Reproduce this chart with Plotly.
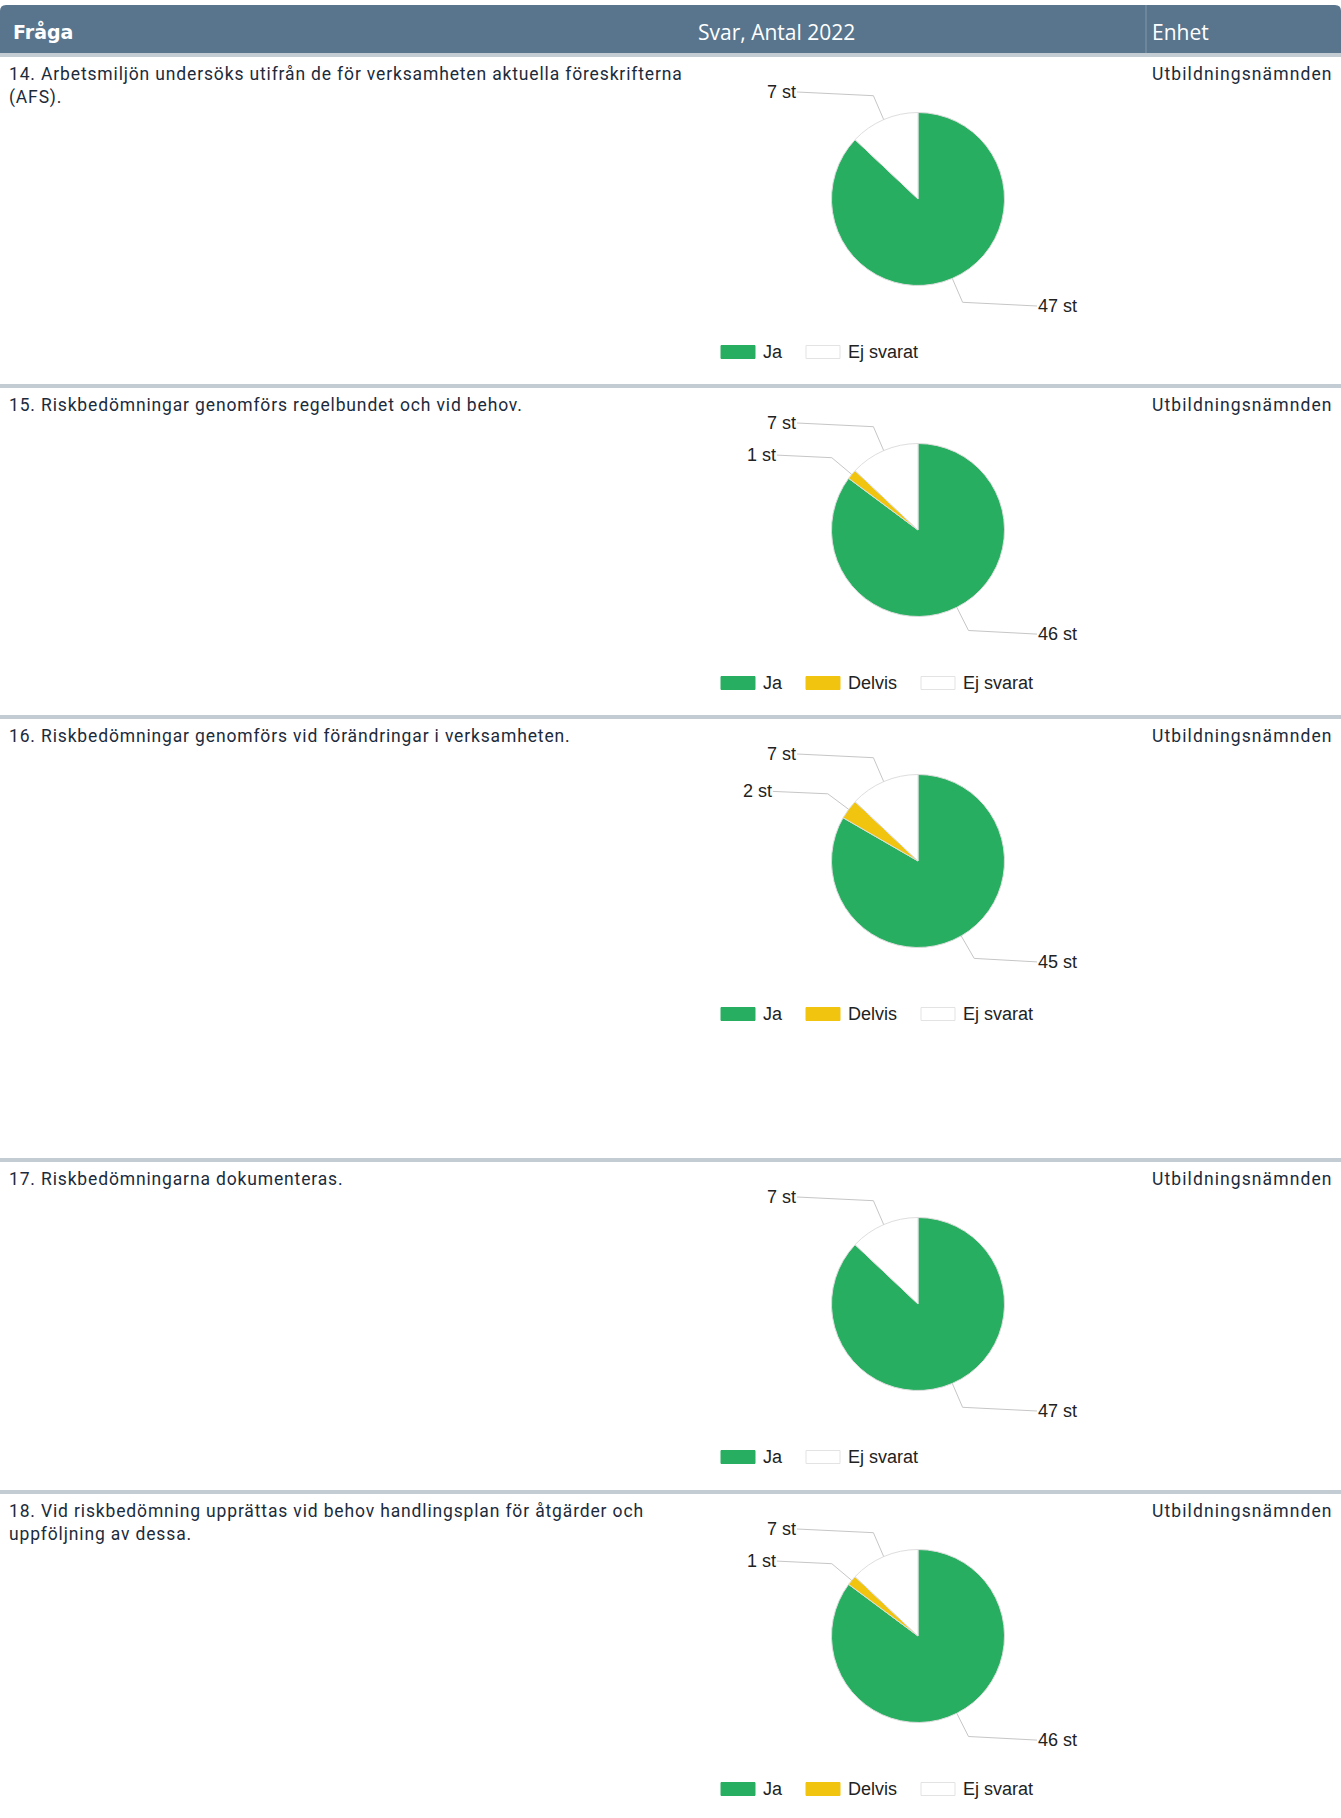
import math
import plotly.graph_objects as go

# ---------------- data ----------------
questions = [
    "14. Arbetsmiljön undersöks utifrån de för verksamheten aktuella föreskrifterna<br>(AFS).",
    "15. Riskbedömningar genomförs regelbundet och vid behov.",
    "16. Riskbedömningar genomförs vid förändringar i verksamheten.",
    "17. Riskbedömningarna dokumenteras.",
    "18. Vid riskbedömning upprättas vid behov handlingsplan för åtgärder och<br>uppföljning av dessa.",
]
units = ["Utbildningsnämnden"] * 5
categories = ["Ja", "Delvis", "Ej svarat"]
ja = [47, 46, 45, 47, 46]
delvis = [0, 1, 2, 0, 1]
ej_svarat = [7, 7, 7, 7, 7]
header_labels = ["Fråga", "Svar, Antal 2022", "Enhet"]

# ---------------- styling / layout ----------------
W, H = 1341, 1818
colors = {"Ja": "#28ae60", "Delvis": "#f1c40f", "Ej svarat": "#ffffff"}
header_bg = "#58758d"
sep_color = "#c3cbd3"
text_color = "#1c2b3b"
label_color = "#222222"
line_color = "#c6c6c6"
sep_y = [55, 386, 717, 1160, 1492]  # separator line above each row
PIE_CX = 918
PIE_R = 86.5

ARIAL = {"J": 500, "a": 556, "D": 722, "e": 556, "l": 222, "v": 500, "i": 222,
         "s": 500, "E": 667, "j": 222, " ": 278, "r": 333, "t": 278}


def text_w(s, size):
    return sum(ARIAL.get(c, 556) for c in s) / 1000 * size


def spaced(t, ls):
    return "<br>".join(f'<span style="letter-spacing:{ls}px">{p}</span>' for p in t.split("<br>"))


fig = go.Figure()
shapes = []
annotations = []

# header
shapes.append(dict(type="path",
                   path=f"M 0 11 Q 0 5 6 5 L {W-6} 5 Q {W} 5 {W} 11 L {W} 53 L 0 53 Z",
                   fillcolor=header_bg, line=dict(width=0), xref="x", yref="y", layer="below"))
shapes.append(dict(type="rect", x0=0, x1=W, y0=53, y1=57, fillcolor=sep_color,
                   line=dict(width=0), xref="x", yref="y", layer="below"))
shapes.append(dict(type="line", x0=1146, x1=1146, y0=5, y1=53,
                   line=dict(color="rgba(255,255,255,0.25)", width=1), xref="x", yref="y"))
annotations.append(dict(x=11, y=31.5, text=f"<b>{header_labels[0]}</b>", xanchor="left", yanchor="middle",
                        font=dict(family="DejaVu Sans", size=19, color="white"), showarrow=False,
                        xref="x", yref="y"))
annotations.append(dict(x=776, y=31.5, text=header_labels[1], xanchor="center", yanchor="middle",
                        font=dict(family="Open Sans", size=21, color="white"), showarrow=False,
                        xref="x", yref="y"))
annotations.append(dict(x=1150, y=31.5, text=header_labels[2], xanchor="left", yanchor="middle",
                        font=dict(family="Open Sans", size=21, color="white"), showarrow=False,
                        xref="x", yref="y"))

for i, q in enumerate(questions):
    s = sep_y[i]
    if i > 0:
        shapes.append(dict(type="rect", x0=0, x1=W, y0=s - 2, y1=s + 2, fillcolor=sep_color,
                           line=dict(width=0), xref="x", yref="y", layer="below"))
    annotations.append(dict(x=7, y=s + 7, text=spaced(q, 0.85), xanchor="left", yanchor="top", align="left",
                            font=dict(family="Roboto", size=17.5, color=text_color), showarrow=False,
                            xref="x", yref="y"))
    annotations.append(dict(x=1150, y=s + 7, text=spaced(units[i], 1.1), xanchor="left", yanchor="top",
                            font=dict(family="Roboto", size=17.5, color=text_color), showarrow=False,
                            xref="x", yref="y"))

    vals_all = [ja[i], delvis[i], ej_svarat[i]]
    labs = [c for c, v in zip(categories, vals_all) if v > 0]
    vals = [v for v in vals_all if v > 0]
    cy = s + 144
    fig.add_trace(go.Pie(
        labels=labs, values=vals, sort=False, direction="clockwise", rotation=0,
        marker=dict(colors=[colors[c] for c in labs], line=dict(color="#dedede", width=1)),
        textinfo="none", hoverinfo="skip", showlegend=False,
        domain=dict(x=[(PIE_CX - PIE_R) / W, (PIE_CX + PIE_R) / W],
                    y=[1 - (cy + PIE_R) / H, 1 - (cy - PIE_R) / H]),
    ))

    # leader lines + labels
    total = sum(vals)
    cum = 0
    for c, v in zip(labs, vals):
        mid = (cum + v / 2) / total * 2 * math.pi
        cum += v
        sx, sy = math.sin(mid), -math.cos(mid)
        ex, ey = PIE_CX + PIE_R * sx, cy + PIE_R * sy
        ox, oy = PIE_CX + (PIE_R + 26) * sx, cy + (PIE_R + 26) * sy
        ly = oy + 4 * sy
        left = sx < 0
        lx = min(ox - 55, PIE_CX - 121) if left else max(ox + 55, PIE_CX + 119)
        shapes.append(dict(type="path", path=f"M {ex:.1f} {ey:.1f} L {ox:.1f} {oy:.1f} L {lx:.1f} {ly:.1f}",
                           line=dict(color=line_color, width=1), xref="x", yref="y"))
        annotations.append(dict(x=lx, y=ly, text=f"{v} st", xanchor="right" if left else "left",
                                yanchor="middle", font=dict(family="Liberation Sans", size=18, color=label_color),
                                showarrow=False, xref="x", yref="y", borderpad=0))

    # legend
    lx = 721
    ly = s + 297
    for c in labs:
        shapes.append(dict(type="rect", x0=lx, x1=lx + 34, y0=ly - 6.5, y1=ly + 6.5,
                           fillcolor=colors[c],
                           line=dict(color="#e3e3e3" if c == "Ej svarat" else colors[c], width=1),
                           xref="x", yref="y"))
        annotations.append(dict(x=lx + 41, y=ly, text=c, xanchor="left", yanchor="middle",
                                font=dict(family="Liberation Sans", size=18, color=label_color),
                                showarrow=False, xref="x", yref="y", borderpad=0))
        lx = lx + 41 + text_w(c, 18) + 25

fig.update_layout(
    width=W, height=H, margin=dict(l=0, r=0, t=0, b=0),
    paper_bgcolor="white", plot_bgcolor="white",
    xaxis=dict(range=[0, W], visible=False, fixedrange=True),
    yaxis=dict(range=[H, 0], visible=False, fixedrange=True),
    shapes=shapes, annotations=annotations, showlegend=False,
)
fig.write_html("out.html", config={"displayModeBar": False})
